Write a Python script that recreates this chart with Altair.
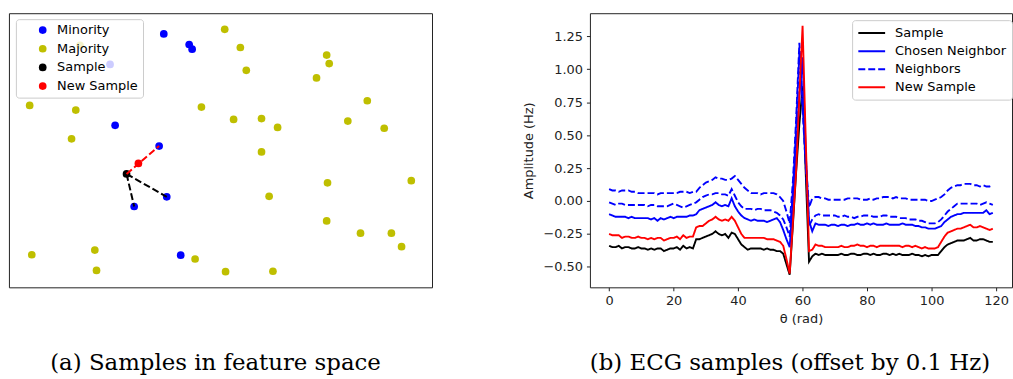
import altair as alt
import pandas as pd

# ---------------- Panel (a): samples in feature space ----------------
minority_x = [3.66, 4.26, 4.33, 2.51, 3.55, 3.73, 2.96, 4.06, 2.39]
minority_y = [5.99, 5.74, 5.63, 3.83, 3.34, 2.14, 1.91, 0.76, 5.27]
majority_x = [5.10, 5.47, 7.51, 7.57, 5.61, 7.27, 8.47, 0.49, 1.58, 4.55,
              5.31, 5.97, 6.35, 8.01, 8.87, 1.48, 5.97, 7.53, 9.51, 6.15,
              7.51, 8.31, 9.04, 9.28, 0.54, 2.03, 2.07, 4.40, 5.12, 6.24, 1.68]
majority_y = [6.10, 5.67, 5.49, 5.29, 5.13, 4.95, 4.41, 4.30, 4.19, 4.26,
              3.97, 3.99, 3.78, 3.93, 3.76, 3.51, 3.20, 2.47, 2.52, 2.15,
              1.57, 1.28, 1.28, 0.96, 0.77, 0.88, 0.40, 0.67, 0.37, 0.38, 5.72]
sample_xy = (2.78, 2.68)
new_sample_xy = (3.06, 2.93)
chosen_idx = 4          # index into minority lists
neighbor_idx = [5, 6]   # other neighbours

classes = ["Minority", "Majority", "Sample", "New Sample"]
class_colors = ["#0000ff", "#bfbf00", "#000000", "#ff0000"]

pts = pd.DataFrame({
    "x": minority_x + majority_x + [sample_xy[0], new_sample_xy[0]],
    "y": minority_y + majority_y + [sample_xy[1], new_sample_xy[1]],
    "cls": ["Minority"] * len(minority_x) + ["Majority"] * len(majority_x)
           + ["Sample", "New Sample"],
})

seg_rows = []
for k, i in enumerate(neighbor_idx):
    seg_rows.append({"seg": k, "x": sample_xy[0], "y": sample_xy[1]})
    seg_rows.append({"seg": k, "x": minority_x[i], "y": minority_y[i]})
segs_black = pd.DataFrame(seg_rows)
segs_red = pd.DataFrame([
    {"seg": 0, "x": sample_xy[0], "y": sample_xy[1]},
    {"seg": 0, "x": minority_x[chosen_idx], "y": minority_y[chosen_idx]},
])

xs_a = alt.Scale(domain=[0, 10], nice=False, zero=False)
ys_a = alt.Scale(domain=[0, 6.48], nice=False, zero=False)

legend_a = alt.Legend(
    title=None, orient="none", legendX=7, legendY=6, direction="vertical",
    fillColor="rgba(255,255,255,0.8)", strokeColor="#cccccc", cornerRadius=3,
    padding=4.5, labelFont="DejaVu Sans", labelFontSize=13, labelColor="black",
    symbolSize=60, symbolOffset=16, labelOffset=8, rowPadding=4.8,
    symbolStrokeWidth=0, symbolOpacity=1, zindex=1,
)

points = alt.Chart(pts).mark_circle(size=60, opacity=1).encode(
    x=alt.X("x:Q", scale=xs_a, axis=None),
    y=alt.Y("y:Q", scale=ys_a, axis=None),
    color=alt.Color("cls:N", scale=alt.Scale(domain=classes, range=class_colors),
                    legend=legend_a),
)
black_lines = alt.Chart(segs_black).mark_line(
    color="black", strokeWidth=2, strokeDash=[7, 3]
).encode(x=alt.X("x:Q", scale=xs_a), y=alt.Y("y:Q", scale=ys_a), detail="seg:N")
red_lines = alt.Chart(segs_red).mark_line(
    color="red", strokeWidth=2, strokeDash=[7, 3]
).encode(x=alt.X("x:Q", scale=xs_a), y=alt.Y("y:Q", scale=ys_a), detail="seg:N")

left = alt.layer(points, black_lines, red_lines).properties(
    width=426, height=276,
    title=alt.TitleParams("(a) Samples in feature space", orient="bottom",
                          anchor="middle", frame="group", offset=83, dx=-5,
                          baseline="alphabetic", font="DejaVu Serif", fontSize=23,
                          fontWeight="normal", color="black"),
)

# ---------------- Panel (b): ECG samples ----------------
theta = list(range(120))
sample = [
    -0.34, -0.35, -0.35, -0.34, -0.36, -0.35, -0.35, -0.36, -0.36, -0.35,
    -0.36, -0.36, -0.37, -0.36, -0.37, -0.36, -0.36, -0.38, -0.37, -0.36,
    -0.36, -0.35, -0.37, -0.34, -0.36, -0.35, -0.36, -0.29, -0.29, -0.28,
    -0.27, -0.26, -0.25, -0.23, -0.25, -0.26, -0.25, -0.28, -0.24, -0.25,
    -0.29, -0.33, -0.35, -0.37, -0.36, -0.36, -0.36, -0.36, -0.37, -0.36,
    -0.37, -0.37, -0.38, -0.38, -0.40, -0.48, -0.56, -0.18, 0.22, 0.58,
    0.87, 0.20, -0.46, -0.42, -0.40, -0.41, -0.40, -0.41, -0.41, -0.41,
    -0.41, -0.41, -0.40, -0.41, -0.41, -0.40, -0.40, -0.41, -0.41, -0.40,
    -0.40, -0.41, -0.40, -0.41, -0.41, -0.40, -0.40, -0.41, -0.40, -0.41,
    -0.40, -0.41, -0.41, -0.41, -0.40, -0.41, -0.41, -0.42, -0.41, -0.42,
    -0.41, -0.41, -0.41, -0.38, -0.35, -0.33, -0.32, -0.31, -0.30, -0.30,
    -0.30, -0.29, -0.28, -0.30, -0.30, -0.29, -0.29, -0.30, -0.31, -0.31,
]
new_sample = [
    -0.25, -0.26, -0.26, -0.26, -0.28, -0.27, -0.27, -0.28, -0.28, -0.27,
    -0.28, -0.28, -0.29, -0.28, -0.29, -0.28, -0.28, -0.30, -0.29, -0.28,
    -0.28, -0.27, -0.29, -0.26, -0.28, -0.27, -0.27, -0.20, -0.19, -0.19,
    -0.17, -0.15, -0.14, -0.12, -0.14, -0.15, -0.14, -0.15, -0.12, -0.15,
    -0.20, -0.25, -0.28, -0.28, -0.28, -0.28, -0.28, -0.28, -0.28, -0.29,
    -0.29, -0.29, -0.30, -0.31, -0.34, -0.44, -0.55, -0.16, 0.23, 0.80,
    1.33, 0.45, -0.38, -0.37, -0.33, -0.34, -0.34, -0.35, -0.35, -0.35,
    -0.35, -0.35, -0.34, -0.35, -0.35, -0.34, -0.34, -0.33, -0.34, -0.34,
    -0.35, -0.34, -0.34, -0.35, -0.34, -0.34, -0.34, -0.34, -0.34, -0.34,
    -0.34, -0.35, -0.34, -0.34, -0.35, -0.34, -0.35, -0.36, -0.35, -0.36,
    -0.36, -0.36, -0.35, -0.31, -0.27, -0.24, -0.23, -0.22, -0.21, -0.21,
    -0.20, -0.19, -0.18, -0.20, -0.20, -0.19, -0.20, -0.21, -0.22, -0.21,
]
chosen = [
    -0.10, -0.11, -0.12, -0.12, -0.12, -0.12, -0.13, -0.12, -0.13, -0.13,
    -0.13, -0.13, -0.13, -0.14, -0.13, -0.15, -0.13, -0.14, -0.13, -0.12,
    -0.13, -0.12, -0.12, -0.12, -0.12, -0.11, -0.11, -0.10, -0.07, -0.06,
    -0.05, -0.04, -0.03, -0.01, -0.03, -0.04, -0.03, -0.04, 0.02, -0.04,
    -0.08, -0.11, -0.13, -0.14, -0.15, -0.14, -0.15, -0.15, -0.15, -0.16,
    -0.15, -0.14, -0.13, -0.16, -0.22, -0.29, -0.35, 0.00, 0.40, 0.80,
    1.09, 0.35, -0.15, -0.23, -0.17, -0.18, -0.18, -0.18, -0.19, -0.18,
    -0.18, -0.19, -0.18, -0.18, -0.19, -0.18, -0.18, -0.17, -0.18, -0.18,
    -0.17, -0.18, -0.17, -0.18, -0.18, -0.18, -0.17, -0.18, -0.18, -0.18,
    -0.18, -0.17, -0.18, -0.18, -0.18, -0.19, -0.19, -0.20, -0.20, -0.21,
    -0.21, -0.21, -0.20, -0.19, -0.16, -0.14, -0.12, -0.11, -0.10, -0.10,
    -0.09, -0.09, -0.09, -0.09, -0.09, -0.09, -0.09, -0.07, -0.10, -0.09,
]
neighbor_1 = [
    0.09, 0.08, 0.08, 0.07, 0.08, 0.08, 0.08, 0.07, 0.07, 0.06,
    0.06, 0.06, 0.06, 0.06, 0.06, 0.05, 0.06, 0.06, 0.06, 0.06,
    0.06, 0.06, 0.07, 0.07, 0.07, 0.06, 0.07, 0.07, 0.10, 0.12,
    0.14, 0.15, 0.16, 0.18, 0.17, 0.17, 0.16, 0.16, 0.17, 0.19,
    0.16, 0.13, 0.10, 0.08, 0.06, 0.06, 0.06, 0.05, 0.06, 0.06,
    0.06, 0.06, 0.05, 0.03, 0.00, -0.08, -0.17, 0.15, 0.62, 1.20,
    0.75, 0.30, -0.05, 0.02, 0.03, 0.03, 0.02, 0.02, 0.01, 0.01,
    0.01, 0.01, 0.01, 0.01, 0.02, 0.02, 0.02, 0.02, 0.01, 0.01,
    0.01, 0.02, 0.01, 0.02, 0.02, 0.03, 0.03, 0.03, 0.02, 0.03,
    0.02, 0.02, 0.02, 0.01, 0.01, 0.01, 0.01, 0.01, 0.01, 0.00,
    0.00, 0.01, 0.02, 0.03, 0.05, 0.08, 0.10, 0.11, 0.12, 0.12,
    0.13, 0.13, 0.13, 0.12, 0.12, 0.11, 0.12, 0.11, 0.11, 0.12,
]
neighbor_2 = [
    -0.01, -0.02, -0.03, -0.02, -0.02, -0.03, -0.03, -0.03, -0.03, -0.03,
    -0.03, -0.03, -0.04, -0.03, -0.03, -0.04, -0.04, -0.04, -0.04, -0.03,
    -0.02, -0.03, -0.04, -0.05, -0.04, -0.03, -0.02, -0.01, 0.01, 0.03,
    0.04, 0.05, 0.05, 0.06, 0.06, 0.05, 0.05, 0.04, 0.09, 0.04,
    -0.01, -0.04, -0.06, -0.06, -0.06, -0.07, -0.06, -0.06, -0.07, -0.07,
    -0.07, -0.08, -0.09, -0.11, -0.14, -0.20, -0.27, 0.08, 0.55, 1.12,
    0.70, 0.25, -0.19, -0.14, -0.11, -0.10, -0.11, -0.11, -0.11, -0.11,
    -0.11, -0.12, -0.12, -0.11, -0.12, -0.12, -0.13, -0.12, -0.12, -0.11,
    -0.11, -0.11, -0.12, -0.12, -0.12, -0.11, -0.11, -0.12, -0.12, -0.12,
    -0.13, -0.13, -0.13, -0.14, -0.14, -0.14, -0.15, -0.15, -0.16, -0.17,
    -0.17, -0.17, -0.16, -0.14, -0.11, -0.08, -0.06, -0.04, -0.02, -0.02,
    -0.02, -0.02, -0.02, -0.02, -0.02, -0.03, -0.02, -0.01, -0.02, -0.03,
]

series_names = ["Sample", "Chosen Neighbor", "Neighbors", "New Sample"]
series_colors = ["#000000", "#0000ff", "#0000ff", "#ff0000"]
series_dash = [[1, 0], [1, 0], [7, 3], [1, 0]]

frames = []
for name, line_id, vals in [
    ("Sample", "s", sample),
    ("Chosen Neighbor", "c", chosen),
    ("Neighbors", "n1", neighbor_1),
    ("Neighbors", "n2", neighbor_2),
    ("New Sample", "r", new_sample),
]:
    frames.append(pd.DataFrame({"theta": theta, "amp": vals,
                                "series": name, "line": line_id}))
ecg = pd.concat(frames, ignore_index=True)

# wide, flat custom line symbol (path scaled by sqrt(size)/2)
legend_b = alt.Legend(
    title=None, orient="none", legendX=264, legendY=7, direction="vertical",
    fillColor="rgba(255,255,255,0.8)", strokeColor="#cccccc", cornerRadius=3,
    padding=5, labelFont="DejaVu Sans", labelFontSize=13, labelColor="black",
    symbolType="M-2,0H2", symbolSize=182, symbolStrokeWidth=2,
    symbolOffset=6.75, labelOffset=15.5, rowPadding=3.2, zindex=1,
)

base = alt.Chart(ecg).mark_line(strokeWidth=1.9).encode(
    x=alt.X("theta:Q", title="θ (rad)",
            scale=alt.Scale(domain=[-5.95, 124.95], nice=False, zero=False),
            axis=alt.Axis(values=[0, 20, 40, 60, 80, 100, 120], format="d")),
    y=alt.Y("amp:Q", title="Amplitude (Hz)",
            scale=alt.Scale(domain=[-0.655, 1.425], nice=False, zero=False),
            axis=alt.Axis(values=[-0.5, -0.25, 0, 0.25, 0.5, 0.75, 1.0, 1.25],
                          format=".2f")),
    color=alt.Color("series:N",
                    scale=alt.Scale(domain=series_names, range=series_colors),
                    legend=legend_b),
    strokeDash=alt.StrokeDash("series:N",
                              scale=alt.Scale(domain=series_names, range=series_dash),
                              legend=legend_b),
    detail="line:N",
)

right = alt.layer(*[
    base.transform_filter(alt.datum.series == s) for s in series_names
]).properties(
    width=425, height=276,
    title=alt.TitleParams("(b) ECG samples (offset by 0.1 Hz)", orient="bottom",
                          anchor="middle", frame="group", offset=45, dx=-11,
                          baseline="alphabetic", font="DejaVu Serif", fontSize=23,
                          fontWeight="normal", color="black"),
)

chart = alt.hconcat(left, right, spacing=90).resolve_scale(
    color="independent", strokeDash="independent"
).resolve_legend(color="independent", strokeDash="independent").properties(
    padding={"left": 8, "top": 11, "right": 0, "bottom": 0}
).configure_view(
    stroke="#222222", strokeWidth=1
).configure_axis(
    grid=False, domain=False, tickSize=3.5, tickColor="#222222",
    labelFont="DejaVu Sans", labelFontSize=13, labelColor="#222222",
    labelPadding=4, titleFont="DejaVu Sans", titleFontSize=13,
    titleFontWeight="normal", titleColor="#222222", titlePadding=5,
).configure_axisY(
    titlePadding=7,
)

chart.save("out.html", embed_options={"renderer": "svg", "actions": False})
